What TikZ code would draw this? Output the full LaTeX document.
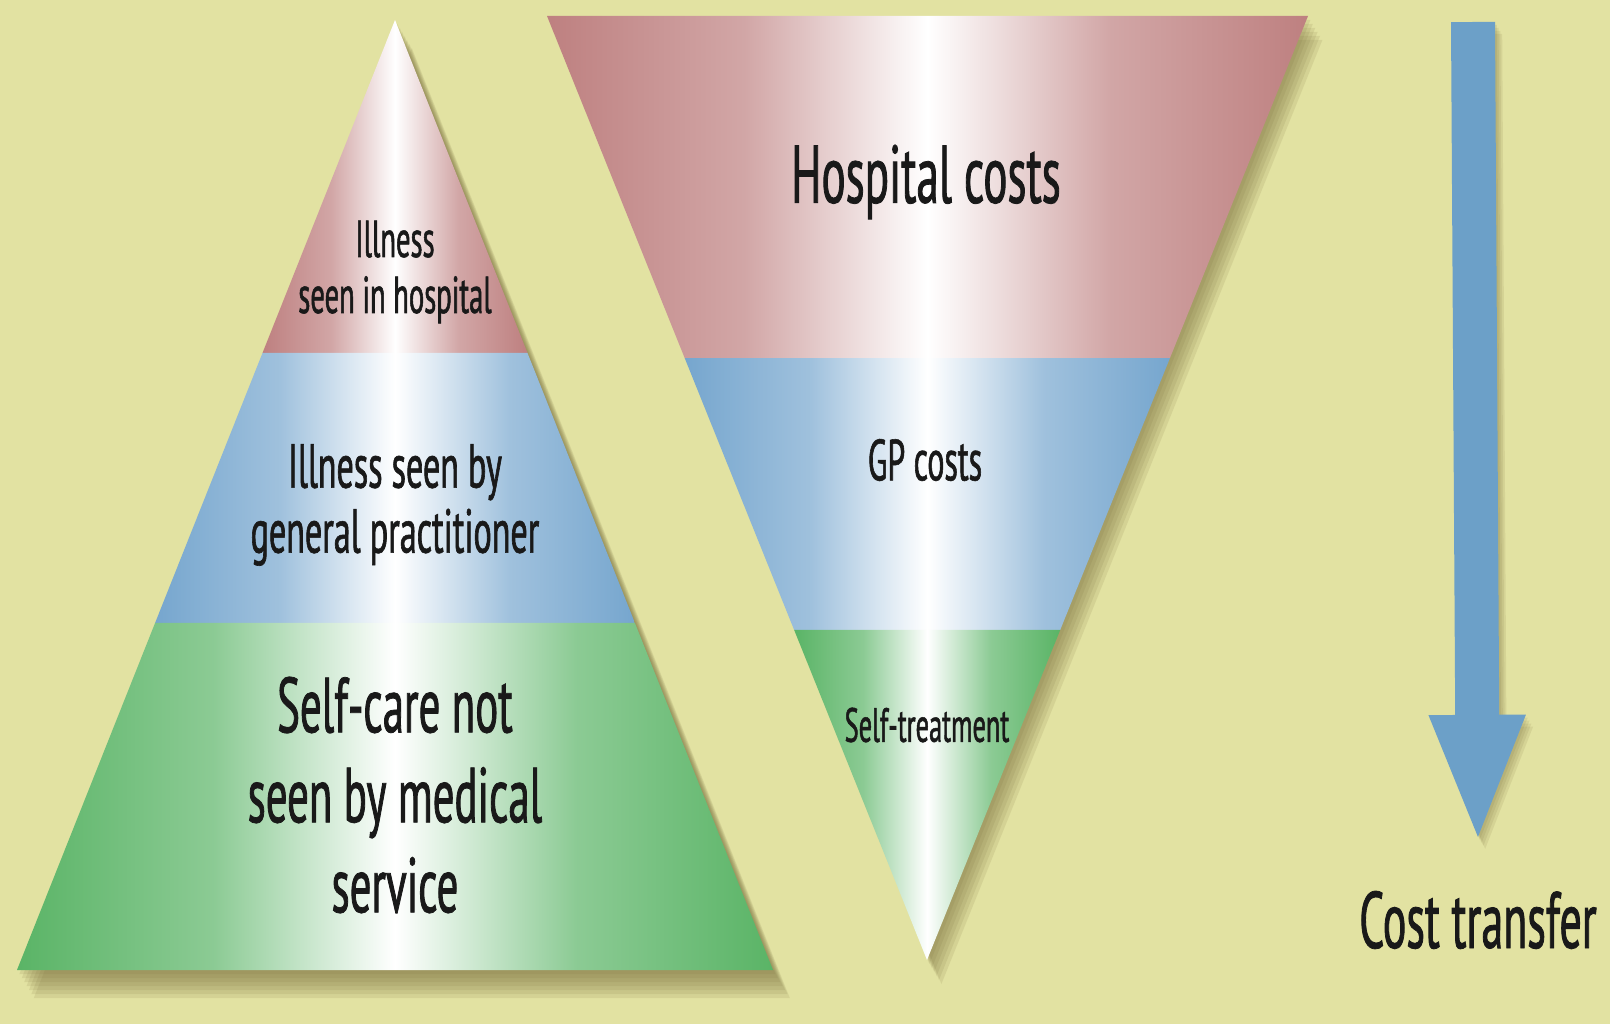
\documentclass[tikz,border=0pt]{standalone}
\usepackage{fontspec}
\newfontfamily\labelfont[FakeStretch=0.55, FakeBold=1]{PT Sans}
\usetikzlibrary{positioning, calc, arrows.meta}

\definecolor{bgyellow}{RGB}{226,226,162}
\definecolor{hospred}{RGB}{190,128,128}
\definecolor{gpblue}{RGB}{118,166,206}
\definecolor{selfgreen}{RGB}{90,180,102}
\definecolor{shadowolive}{RGB}{120,110,60}
\definecolor{arrowblue}{RGB}{108,160,200}
\definecolor{textdark}{RGB}{25,25,25}

% colour -> white -> colour across each band (25bp..75bp fits the path)
\pgfdeclarehorizontalshading{hospshade}{100bp}{color(0bp)=(hospred); color(25bp)=(hospred); color(38bp)=(hospred!70!white); color(50bp)=(white); color(62bp)=(hospred!70!white); color(75bp)=(hospred); color(100bp)=(hospred)}
\pgfdeclarehorizontalshading{gpshade}{100bp}{color(0bp)=(gpblue); color(25bp)=(gpblue); color(38bp)=(gpblue!70!white); color(50bp)=(white); color(62bp)=(gpblue!70!white); color(75bp)=(gpblue); color(100bp)=(gpblue)}
\pgfdeclarehorizontalshading{selfshade}{100bp}{color(0bp)=(selfgreen); color(25bp)=(selfgreen); color(38bp)=(selfgreen!70!white); color(50bp)=(white); color(62bp)=(selfgreen!70!white); color(75bp)=(selfgreen); color(100bp)=(selfgreen)}

\tikzset{
  band/.style={shading=#1},
  shadowcopy/.style={fill=shadowolive, opacity=0.13},
  bandtext/.style={text=textdark, align=center, inner sep=0pt},
}

\begin{document}
\begin{tikzpicture}[x=1pt, y=-1pt]
  \fill[bgyellow] (0,0) rectangle (1610,1024);
  \useasboundingbox (0,0) rectangle (1610,1024);

  % illness pyramid
  \coordinate (apex) at (395,20);
  \coordinate (baseL) at (17,970);
  \coordinate (baseR) at (773,970);
  \coordinate (hosL) at ($(apex)!0.3505!(baseL)$);
  \coordinate (hosR) at ($(apex)!0.3505!(baseR)$);
  \coordinate (gpL) at ($(apex)!0.6347!(baseL)$);
  \coordinate (gpR) at ($(apex)!0.6347!(baseR)$);
  \foreach \s in {4,8,...,28}
    \fill[shadowcopy] ($(apex)+(0.6*\s,\s)$) -- ($(baseR)+(0.6*\s,\s)$) -- ($(baseL)+(0.6*\s,\s)$) -- cycle;
  \shade[band=hospshade] (apex) -- (hosR) -- (hosL) -- cycle;
  \shade[band=gpshade] (hosL) -- (hosR) -- (gpR) -- (gpL) -- cycle;
  \shade[band=selfshade] (gpL) -- (gpR) -- (baseR) -- (baseL) -- cycle;

  % cost funnel
  \coordinate (topL) at (547,16);
  \coordinate (topR) at (1308,16);
  \coordinate (tip) at (927,960);
  \coordinate (hcL) at ($(topL)!0.3623!(tip)$);
  \coordinate (hcR) at ($(topR)!0.3623!(tip)$);
  \coordinate (gcL) at ($(topL)!0.6504!(tip)$);
  \coordinate (gcR) at ($(topR)!0.6504!(tip)$);
  \foreach \s in {4,8,...,24}
    \fill[shadowcopy] ($(topL)+(0.6*\s,\s)$) -- ($(topR)+(0.6*\s,\s)$) -- ($(tip)+(0.6*\s,\s)$) -- cycle;
  \shade[band=hospshade] (topL) -- (topR) -- (hcR) -- (hcL) -- cycle;
  \shade[band=gpshade] (hcL) -- (hcR) -- (gcR) -- (gcL) -- cycle;
  \shade[band=selfshade] (gcL) -- (gcR) -- (tip) -- cycle;

  % labels
  \node[bandtext, font={\labelfont\fontsize{52}{56}\selectfont}] (hospital) at (395,272) {Illness\\seen in hospital};
  \node[bandtext, font={\labelfont\fontsize{62}{65}\selectfont}] (gp) at (395,505) {Illness seen by\\general practitioner};
  \node[bandtext, font={\labelfont\fontsize{78}{90}\selectfont}] (selfcare) at (395,795) {Self-care not\\seen by medical\\service};
  \node[bandtext, font={\labelfont\fontsize{82}{90}\selectfont}] (hospcost) at (926,182) {Hospital costs};
  \node[bandtext, font={\labelfont\fontsize{58}{60}\selectfont}] (gpcost) at (925,460) {GP costs};
  \node[bandtext, font={\labelfont\fontsize{48}{50}\selectfont}] (selfcost) at (927,725) {Self-treatment};
  \node[bandtext, font={\labelfont\fontsize{80}{90}\selectfont}] (costlabel) at (1478,920) {Cost transfer};

  % transfer arrow
  \coordinate (costtop) at (1473,22);
  \coordinate[above=46pt of costlabel.north] (costtip);
  \foreach \s in {3,6,...,12}
    \draw[shadowolive, opacity=0.12, line width=44pt, -{Triangle[length=130pt, width=86pt]}]
      ($(costtop)+(0.6*\s,\s)$) -- ($(costtip)+(0.6*\s,\s)$);
  \draw[arrowblue, line width=44pt, -{Triangle[length=130pt, width=86pt]}] (costtop) -- (costtip);
\end{tikzpicture}
\end{document}
